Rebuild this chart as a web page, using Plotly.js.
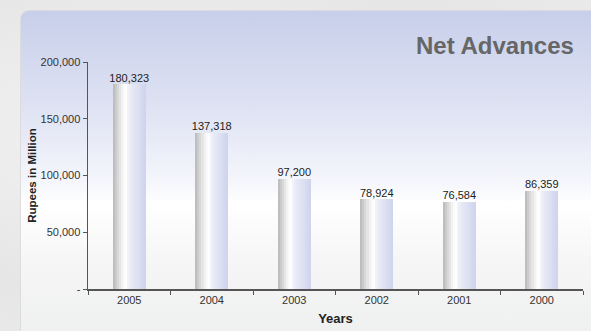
<!DOCTYPE html>
<html>
<head>
<meta charset="utf-8">
<script src="https://cdn.plot.ly/plotly-3.0.1.min.js"></script>
<style>
  html, body { margin:0; padding:0; width:591px; height:331px; overflow:hidden;
    background: radial-gradient(ellipse at 30% 40%, #f4f4f4 0%, #e6e6e6 60%, #ececec 100%); }
  #panel { position:absolute; left:20px; top:10px; width:590px; height:335px;
    border-radius:9px; border:1.5px solid #dcdcdc; box-sizing:border-box;
    background: linear-gradient(to bottom, #c8cfea 0%, #dfe3f3 30%, #f6f7fc 52%, #ffffff 58%, #f6f6f6 75%, #eeefef 100%); }
  #chart { position:absolute; left:0; top:0; width:591px; height:331px; }
</style>
</head>
<body>
<div id="panel"></div>
<div id="chart"></div>
<script>
const years = ["2005", "2004", "2003", "2002", "2001", "2000"];
const netAdvances = [180323, 137318, 97200, 78924, 76584, 86359];
const yTickVals = [0, 50000, 100000, 150000, 200000];
const yTickText = ["-", "50,000", "100,000", "150,000", "200,000"];

// horizontal shading of each cylinder-like bar, built from thin overlaid strips
const stops = [[0, [184,184,184]], [0.3, [246,246,246]], [0.4, [255,255,255]], [0.5, [236,238,247]], [1, [206,211,236]]];
function shade(t) {
  for (let k = 0; k < stops.length - 1; k++) {
    const a = stops[k], b = stops[k+1];
    if (t >= a[0] && t <= b[0]) {
      const f = (t - a[0]) / (b[0] - a[0]);
      const c = a[1].map((v, j) => Math.round(v + (b[1][j] - v) * f));
      return "rgb(" + c.join(",") + ")";
    }
  }
  return "rgb(206,211,236)";
}
const barW = 0.4, nStrips = 16;
const traces = [];
for (let i = 0; i < nStrips; i++) {
  const w = barW / nStrips;
  traces.push({
    type: "bar", x: years, y: netAdvances,
    width: years.map(() => w * 1.08),
    offset: years.map(() => -barW / 2 + i * w),
    marker: { color: shade((i + 0.5) / nStrips), line: { width: 0 } },
    hoverinfo: "skip", showlegend: false
  });
}
traces.push({
  type: "scatter", mode: "text", x: years, y: netAdvances,
  text: netAdvances.map(v => v.toLocaleString("en-US")),
  textposition: "top center",
  textfont: { family: "Liberation Sans, Arial, sans-serif", size: 11, color: "#222" },
  cliponaxis: false, showlegend: false, hoverinfo: "skip"
});

const layout = {
  width: 591, height: 331,
  margin: { l: 88, r: 8, t: 62, b: 42 },
  paper_bgcolor: "rgba(0,0,0,0)", plot_bgcolor: "rgba(0,0,0,0)",
  barmode: "overlay", bargap: 0,
  font: { family: "Liberation Sans, Arial, sans-serif", size: 11, color: "#333" },
  title: { text: "<b>Net Advances</b>", x: 0.971, xanchor: "right", y: 0.862, yanchor: "middle", xref: "container", yref: "container",
    font: { family: "Liberation Sans, Arial, sans-serif", size: 24, color: "#666" } },
  xaxis: {
    type: "category", showline: true, linecolor: "#555", linewidth: 1.5,
    ticks: "outside", ticklen: 4, tickcolor: "#555", tickson: "boundaries",
    showgrid: false, zeroline: false,
    tickfont: { size: 11, color: "#333" },
    title: { text: "<b>Years</b>", font: { size: 13, color: "#222" }, standoff: 9 }
  },
  yaxis: {
    range: [0, 200000], showline: true, linecolor: "#555", linewidth: 1.5,
    ticks: "outside", ticklen: 4, tickcolor: "#555",
    tickvals: yTickVals, ticktext: yTickText,
    showgrid: false, zeroline: false,
    tickfont: { size: 11, color: "#333" },
    title: { text: "<b>Rupees in Million</b>", font: { size: 11.5, color: "#222" }, standoff: 1 }
  }
};
Plotly.newPlot("chart", traces, layout, { displayModeBar: false, staticPlot: true });
</script>
</body>
</html>
